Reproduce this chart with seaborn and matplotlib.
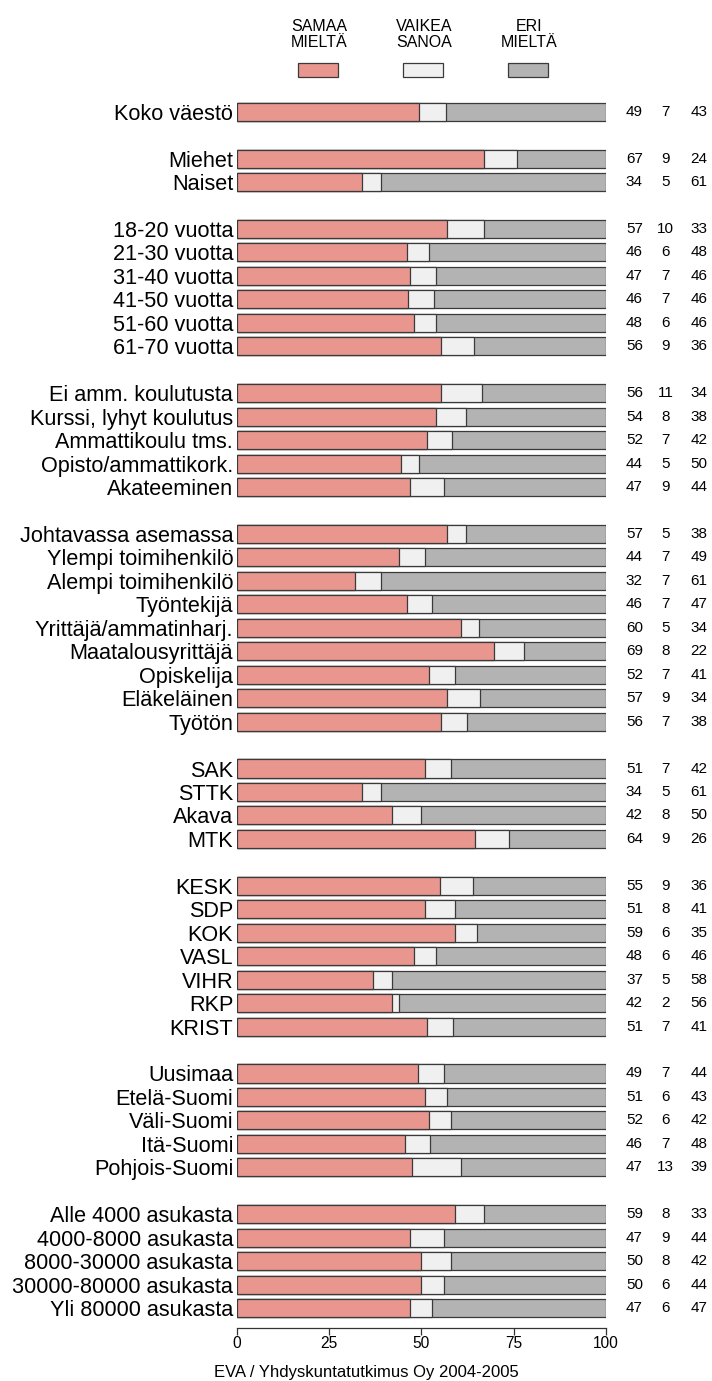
import numpy as np
import pandas as pd
import matplotlib
matplotlib.use("Agg")
import matplotlib.pyplot as plt
from matplotlib.patches import Rectangle
import seaborn as sns

# ---- data -------------------------------------------------------------
labels = [
    "Koko väestö",
    "Miehet", "Naiset",
    "18-20 vuotta", "21-30 vuotta", "31-40 vuotta", "41-50 vuotta",
    "51-60 vuotta", "61-70 vuotta",
    "Ei amm. koulutusta", "Kurssi, lyhyt koulutus", "Ammattikoulu tms.",
    "Opisto/ammattikork.", "Akateeminen",
    "Johtavassa asemassa", "Ylempi toimihenkilö", "Alempi toimihenkilö",
    "Työntekijä", "Yrittäjä/ammatinharj.", "Maatalousyrittäjä",
    "Opiskelija", "Eläkeläinen", "Työtön",
    "SAK", "STTK", "Akava", "MTK",
    "KESK", "SDP", "KOK", "VASL", "VIHR", "RKP", "KRIST",
    "Uusimaa", "Etelä-Suomi", "Väli-Suomi", "Itä-Suomi", "Pohjois-Suomi",
    "Alle 4000 asukasta", "4000-8000 asukasta", "8000-30000 asukasta",
    "30000-80000 asukasta", "Yli 80000 asukasta",
]
group_sizes = [1, 2, 6, 5, 9, 4, 7, 5, 5]

samaa = [49,
         67, 34,
         57, 46, 47, 46, 48, 56,
         56, 54, 52, 44, 47,
         57, 44, 32, 46, 60, 69, 52, 57, 56,
         51, 34, 42, 64,
         55, 51, 59, 48, 37, 42, 51,
         49, 51, 52, 46, 47,
         59, 47, 50, 50, 47]
vaikea = [7,
          9, 5,
          10, 6, 7, 7, 6, 9,
          11, 8, 7, 5, 9,
          5, 7, 7, 7, 5, 8, 7, 9, 7,
          7, 5, 8, 9,
          9, 8, 6, 6, 5, 2, 7,
          7, 6, 6, 7, 13,
          8, 9, 8, 6, 6]
eri = [43,
       24, 61,
       33, 48, 46, 46, 46, 36,
       34, 38, 42, 50, 44,
       38, 49, 61, 47, 34, 22, 41, 34, 38,
       42, 61, 50, 26,
       36, 41, 35, 46, 58, 56, 41,
       44, 43, 42, 48, 39,
       33, 44, 42, 44, 47]

legend_labels = ["SAMAA\nMIELTÄ", "VAIKEA\nSANOA", "ERI\nMIELTÄ"]
x_ticks = [0, 25, 50, 75, 100]
source_note = "EVA / Yhdyskuntatutkimus Oy 2004-2005"

# ---- layout of rows: one blank row between groups ---------------------
positions = []
row = 0
for size in group_sizes:
    for _ in range(size):
        positions.append(row)
        row += 1
    row += 1

df = pd.DataFrame({"label": labels, "pos": positions,
                   "samaa": samaa, "vaikea": vaikea, "eri": eri})
total = df[["samaa", "vaikea", "eri"]].sum(axis=1)
df["end_samaa"] = df["samaa"] / total * 100
df["end_vaikea"] = (df["samaa"] + df["vaikea"]) / total * 100
df["end_eri"] = (df["samaa"] + df["vaikea"] + df["eri"]) / total * 100

colors = ["#E9968F", "#F0F0F0", "#B3B3B3"]
edge = "#3a3a3a"

sns.set_theme(style="white")
plt.rcParams["font.family"] = ["Liberation Sans", "DejaVu Sans"]

W, H = 712, 1381
fig = plt.figure(figsize=(W / 100, H / 100), dpi=100)
ax = fig.add_axes([236.7 / W, 1 - 1328 / H, (606 - 236.7) / W, (1328 - 97.6) / H])

# stacked bars: each layer drawn from its cumulative end, back to front
for col, c in zip(["end_eri", "end_vaikea", "end_samaa"],
                  [colors[2], colors[1], colors[0]]):
    sns.barplot(data=df, x=col, y="pos", orient="h", native_scale=True,
                color=c, edgecolor=edge, linewidth=0.9, width=0.77,
                saturation=1, ax=ax)

ax.set_xlim(0, 100)
ax.set_ylim(positions[-1] + 0.85, -0.6)
ax.set_yticks(positions)
ax.set_yticklabels(labels, fontsize=15.6, color="black")
ax.tick_params(axis="y", length=0, pad=2.5)
ax.set_xticks(x_ticks)
ax.set_xticklabels([str(t) for t in x_ticks], fontsize=11.2, color="black")
ax.tick_params(axis="x", length=5, width=0.9, color="#333333", pad=1,
               direction="out", bottom=True)
ax.set_xlabel("")
ax.set_ylabel("")
for s in ["left", "top", "right"]:
    ax.spines[s].set_visible(False)
ax.spines["bottom"].set_bounds(0, 100)
ax.spines["bottom"].set_color("#333333")
ax.spines["bottom"].set_linewidth(0.9)
ax.grid(False)

# value columns on the right
for _, r in df.iterrows():
    for xv, val in zip([107.7, 116.1, 125.2], [r["samaa"], r["vaikea"], r["eri"]]):
        ax.text(xv, r["pos"], f"{int(val)}", ha="center", va="center",
                fontsize=11, clip_on=False, color="black")

# legend above the bars
box_left = [298, 403, 508]
for bx, c, lab in zip(box_left, colors, legend_labels):
    fig.add_artist(Rectangle((bx / W, 1 - 76.7 / H), 40 / W, 14 / H,
                             transform=fig.transFigure, facecolor=c,
                             edgecolor=edge, linewidth=0.9))
    fig.text((bx + 21) / W, 1 - 34.2 / H, lab, ha="center", va="center",
             fontsize=11.5, linespacing=1.1, color="black")

fig.text(366 / W, 1 - 1373 / H, source_note, ha="center", va="center",
         fontsize=12, color="black")

fig.savefig("out.png", dpi=100)
